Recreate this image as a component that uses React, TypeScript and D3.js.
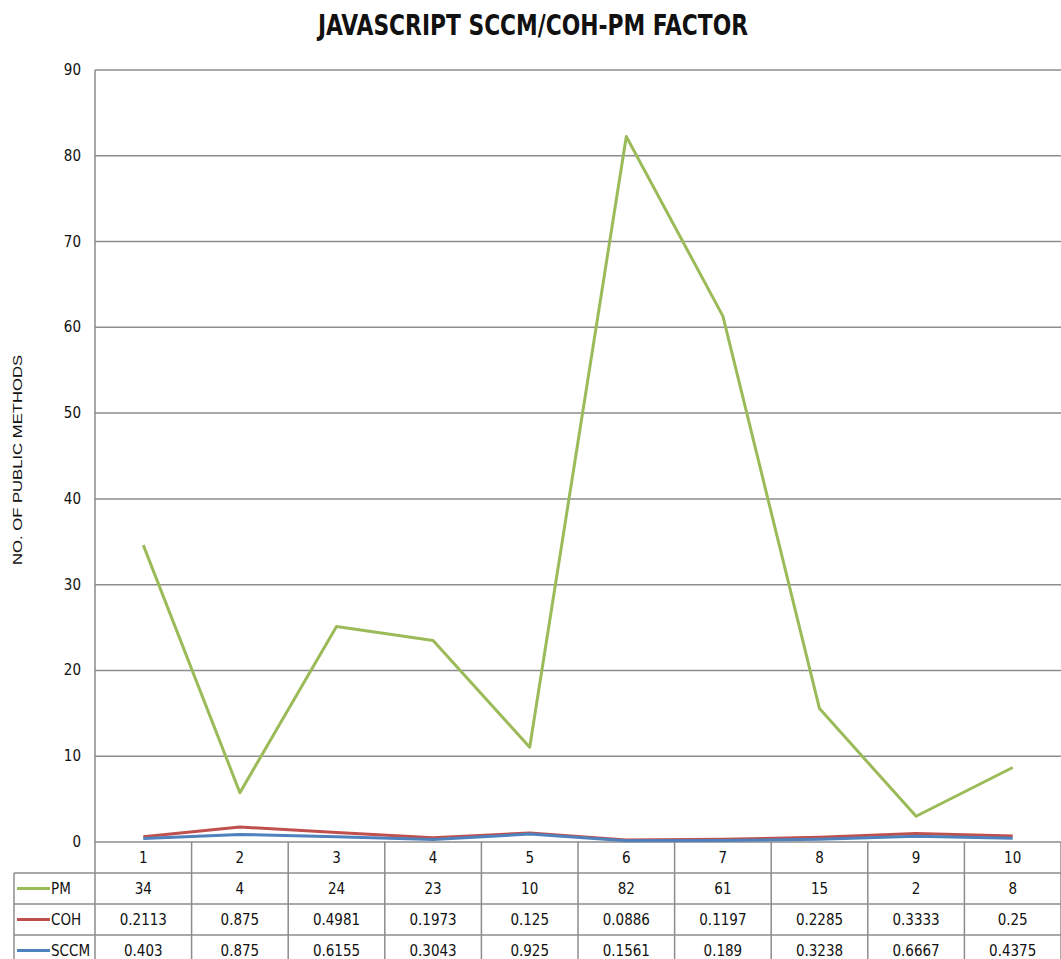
import React from "react";
import * as d3 from "d3";

const categories = ["1", "2", "3", "4", "5", "6", "7", "8", "9", "10"];
const pmValues = [34, 4, 24, 23, 10, 82, 61, 15, 2, 8];
const cohValues = [0.2113, 0.875, 0.4981, 0.1973, 0.125, 0.0886, 0.1197, 0.2285, 0.3333, 0.25];
const sccmValues = [0.403, 0.875, 0.6155, 0.3043, 0.925, 0.1561, 0.189, 0.3238, 0.6667, 0.4375];
const cohLabels = ["0.2113", "0.875", "0.4981", "0.1973", "0.125", "0.0886", "0.1197", "0.2285", "0.3333", "0.25"];
const sccmLabels = ["0.403", "0.875", "0.6155", "0.3043", "0.925", "0.1561", "0.189", "0.3238", "0.6667", "0.4375"];
const yTicks = [0, 10, 20, 30, 40, 50, 60, 70, 80, 90];

const WIDTH = 1061;
const HEIGHT = 959;
const margin = { top: 70, right: 0, bottom: 117, left: 95 };
const font = "'DejaVu Sans Condensed', 'Liberation Sans Narrow', 'Open Sans', sans-serif";
const grid = "#8c8c8c";

export default function App() {
  const innerW = WIDTH - margin.left - margin.right;
  const bottom = HEIGHT - margin.bottom;

  const x = d3.scaleBand<string>().domain(categories).range([margin.left, margin.left + innerW]);
  const y = d3.scaleLinear().domain([0, 90]).range([bottom, margin.top]);
  const cx = (c: string) => (x(c) ?? 0) + x.bandwidth() / 2;

  // stacked line chart: SCCM, then COH on top, then PM on top
  const sccmStack = sccmValues;
  const cohStack = cohValues.map((v, i) => v + sccmValues[i]);
  const pmStack = pmValues.map((v, i) => v + cohStack[i]);

  const line = d3
    .line<number>()
    .x((_, i) => cx(categories[i]))
    .y((d) => y(d));

  const series = [
    { name: "PM", color: "#9bbb59", data: pmStack, labels: pmValues.map(String) },
    { name: "COH", color: "#c0504d", data: cohStack, labels: cohLabels },
    { name: "SCCM", color: "#4f81bd", data: sccmStack, labels: sccmLabels },
  ];

  const rowH = 31;
  const tableLeft = 14;

  return (
    <svg width={WIDTH} height={HEIGHT} style={{ display: "block", position: "absolute", left: 0, top: 0 }}>
      <rect width={WIDTH} height={HEIGHT} fill="#fff" />
      <text
        x={533}
        y={35}
        textAnchor="middle"
        fontFamily={font}
        fontWeight="bold"
        fontSize={28}
        textLength={430}
        lengthAdjust="spacingAndGlyphs"
        fill="#111"
      >
        JAVASCRIPT SCCM/COH-PM FACTOR
      </text>

      {yTicks.map((t) => (
        <g key={t}>
          <line x1={margin.left} x2={WIDTH} y1={y(t)} y2={y(t)} stroke={grid} strokeWidth={1.5} />
          <text x={81} y={y(t) + 5} textAnchor="end" fontFamily={font} fontSize={15} fill="#111">
            {t}
          </text>
        </g>
      ))}
      <line x1={margin.left} x2={margin.left} y1={margin.top} y2={bottom + rowH * 4} stroke={grid} strokeWidth={1.5} />

      <text
        transform={`translate(22, 460) rotate(-90)`}
        textAnchor="middle"
        fontFamily="'Liberation Sans', Arial, sans-serif"
        fontSize={13}
        textLength={210}
        lengthAdjust="spacingAndGlyphs"
        fill="#111"
      >
        NO. OF  PUBLIC METHODS
      </text>

      {series.map((s) => (
        <path key={s.name} d={line(s.data) ?? ""} fill="none" stroke={s.color} strokeWidth={3} strokeLinejoin="round" />
      ))}

      {/* data table */}
      {categories.map((c) => (
        <g key={c}>
          <line
            x1={(x(c) ?? 0) + x.bandwidth()}
            x2={(x(c) ?? 0) + x.bandwidth()}
            y1={bottom}
            y2={bottom + rowH * 4}
            stroke={grid}
            strokeWidth={1.5}
          />
          <text x={cx(c)} y={bottom + 21} textAnchor="middle" fontFamily={font} fontSize={15} fill="#111">
            {c}
          </text>
        </g>
      ))}
      <line x1={tableLeft} x2={tableLeft} y1={bottom + rowH} y2={bottom + rowH * 4} stroke={grid} strokeWidth={1.5} />
      {series.map((s, r) => {
        const top = bottom + rowH * (r + 1);
        return (
          <g key={s.name}>
            <line x1={tableLeft} x2={WIDTH} y1={top} y2={top} stroke={grid} strokeWidth={1.5} />
            <line x1={17} x2={50} y1={top + rowH / 2} y2={top + rowH / 2} stroke={s.color} strokeWidth={3} />
            <text x={51} y={top + 21} fontFamily={font} fontSize={15} fill="#111">
              {s.name}
            </text>
            {s.labels.map((l, i) => (
              <text key={i} x={cx(categories[i])} y={top + 21} textAnchor="middle" fontFamily={font} fontSize={15} fill="#111">
                {l}
              </text>
            ))}
          </g>
        );
      })}
    </svg>
  );
}
